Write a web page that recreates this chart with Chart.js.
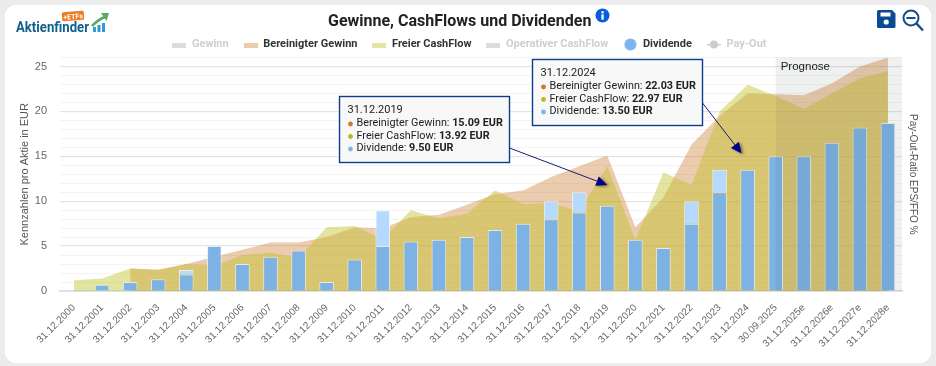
<!DOCTYPE html>
<html lang="de">
<head>
<meta charset="utf-8">
<title>Gewinne, CashFlows und Dividenden</title>
<script src="https://cdn.jsdelivr.net/npm/chart.js@4"></script>
<style>
html,body{margin:0;padding:0;background:#ececec;width:936px;height:366px;overflow:hidden}
#card{position:absolute;left:5px;top:5px;width:926px;height:358px;background:#fff;border-radius:11px}
#wrap{position:absolute;left:0;top:0;width:936px;height:366px}
#head{position:absolute;left:328px;top:11px;font:bold 16px Roboto,sans-serif;color:#222;white-space:nowrap;line-height:20px}
.ic{position:absolute}
</style>
</head>
<body>
<div id="card"></div>
<div id="wrap"><canvas id="myChart" width="936" height="366"></canvas></div>
<div id="head">Gewinne, CashFlows und Dividenden</div>

<svg class="ic" style="left:595px;top:8px" width="15" height="15" viewBox="0 0 15 15">
  <circle cx="7.5" cy="7.5" r="7" fill="#0b5ed7"/>
  <rect x="6.4" y="6.4" width="2.3" height="5.2" fill="#fff"/>
  <rect x="6.4" y="3.2" width="2.3" height="2.2" fill="#fff"/>
</svg>

<!-- logo -->
<svg class="ic" style="left:14px;top:9px" width="100" height="28" viewBox="0 0 100 28">
  <g transform="rotate(-4 59 7)">
    <rect x="48" y="2.5" width="22" height="9" rx="1.5" fill="#ee7a1f"/>
    <text x="59" y="10" text-anchor="middle" font-family="Roboto" font-weight="bold" font-size="7" fill="#fff">+ETFs</text>
  </g>
  <text x="2" y="23" font-family="Roboto" font-weight="bold" font-size="15" textLength="73" lengthAdjust="spacingAndGlyphs" fill="#10608f">Aktienfinder</text>
  <rect x="79" y="18" width="3" height="5" fill="#2f9bd4"/>
  <rect x="83.5" y="16" width="3" height="7" fill="#2f9bd4"/>
  <rect x="88" y="14" width="3" height="9" fill="#2f9bd4"/>
  <path d="M78 17 Q85 10 91 8" stroke="#58a868" stroke-width="2.5" fill="none"/>
  <path d="M87 4 L95 4 L92.5 12 Z" fill="#58a868"/>
</svg>

<!-- save + zoom icons -->
<svg class="ic" style="left:877px;top:10px" width="19" height="18" viewBox="0 0 19 18">
  <path d="M1.5 0H15L18.5 3.5V16.5A1.5 1.5 0 0 1 17 18H1.5A1.5 1.5 0 0 1 0 16.5V1.5A1.5 1.5 0 0 1 1.5 0Z" fill="#0a4a94"/>
  <rect x="3.5" y="2.5" width="10" height="4" fill="#fff"/>
  <circle cx="9.2" cy="12" r="2.6" fill="#fff"/>
</svg>
<svg class="ic" style="left:902px;top:9px" width="22" height="23" viewBox="0 0 22 23">
  <circle cx="9" cy="9" r="7.5" fill="none" stroke="#0f4f8c" stroke-width="2"/>
  <rect x="4.5" y="8" width="9" height="2" fill="#0f4f8c"/>
  <path d="M14.5 14.5L21 21.5" stroke="#0f4f8c" stroke-width="2.4"/>
</svg>

<script>
const labels=["31.12.2000","31.12.2001","31.12.2002","31.12.2003","31.12.2004","31.12.2005","31.12.2006","31.12.2007","31.12.2008","31.12.2009","31.12.2010","31.12.2011","31.12.2012","31.12.2013","31.12.2014","31.12.2015","31.12.2016","31.12.2017","31.12.2018","31.12.2019","31.12.2020","31.12.2021","31.12.2022","31.12.2023","31.12.2024","30.09.2025","31.12.2025e","31.12.2026e","31.12.2027e","31.12.2028e"];
const adjEps=[null,null,2.5,2.4,3.0,3.8,4.6,5.4,5.4,6.0,7.1,7.0,8.2,8.5,9.6,10.8,11.2,12.7,13.9,15.09,7.1,10.4,16.3,19.5,22.03,21.9,21.8,23.1,25.0,26.0];
const fcf=[1.2,1.4,2.5,2.3,3.0,2.8,4.0,4.3,3.7,7.1,7.25,5.8,9.0,8.1,8.6,11.2,9.7,9.8,8.9,13.92,5.7,13.2,11.8,20.0,22.97,21.7,20.3,22.0,23.7,24.5];
const dividend=[0,0.7,1.0,1.3,1.85,5.0,3.0,3.8,4.5,1.0,3.5,5.0,5.5,5.7,6.0,6.8,7.5,8.0,8.75,9.5,5.7,4.8,7.5,11.0,13.5,15.0,15.0,16.5,18.2,18.7];
const specialDiv=[0,0,0,0,0.5,0,0,0,0,0,0,4.0,0,0,0,0,0,2.0,2.25,0,0,0,2.5,2.5,0,0,0,0,0,0];

const yMax=26;
const prognoseFrom=25;

// the two pinned tooltips: [category index, arrow tip value on the y axis]
const pinned=[[19,11.8],[24,15.3]];

const ORANGE='rgb(204,122,41)';
const OLIVE='rgb(186,186,24)';
const BLUE='rgb(124,181,236)';

function swatch(type,color){
    const c=document.createElement('canvas');
    c.width=14;c.height=13;
    const g=c.getContext('2d');
    g.fillStyle=color;
    if(type=='area'){g.fillRect(0,5,14,5);}
    if(type=='dot'){g.beginPath();g.arc(7,6.5,6,0,Math.PI*2);g.fill();}
    if(type=='linedot'){
        g.fillRect(0,6,14,1.4);
        g.beginPath();g.arc(7,6.5,4,0,Math.PI*2);g.fill();
    }
    return c;
}

const GREY='#cfcfcf';
const legendItems=[
    {text:'Gewinn',icon:swatch('area','#dcdcdc'),color:GREY},
    {text:'Bereinigter Gewinn',icon:swatch('area','rgb(235,205,170)'),color:'#333'},
    {text:'Freier CashFlow',icon:swatch('area','rgb(228,228,165)'),color:'#333'},
    {text:'Operativer CashFlow',icon:swatch('area','#dcdcdc'),color:GREY},
    {text:'Dividende',icon:swatch('dot',BLUE),color:'#333'},
    {text:'Pay-Out',icon:swatch('linedot','#cccccc'),color:GREY},
];

function drawArrow(ctx,x1,y1,x2,y2){
    const a=Math.atan2(y2-y1,x2-x1);
    const hx=x2-11*Math.cos(a), hy=y2-11*Math.sin(a);
    ctx.strokeStyle='#1a1a7a';
    ctx.lineWidth=1;
    ctx.beginPath();ctx.moveTo(x1,y1);ctx.lineTo(hx,hy);ctx.stroke();
    ctx.save();
    ctx.shadowColor='rgba(0,0,0,.45)';
    ctx.shadowBlur=3;
    ctx.shadowOffsetX=2;ctx.shadowOffsetY=1;
    ctx.fillStyle='#00008b';
    ctx.beginPath();
    ctx.moveTo(x2,y2);
    ctx.lineTo(hx+5*Math.sin(a),hy-5*Math.cos(a));
    ctx.lineTo(hx-5*Math.sin(a),hy+5*Math.cos(a));
    ctx.closePath();ctx.fill();
    ctx.restore();
}

function drawBox(ctx,box,idx){
    ctx.fillStyle='#f8f8f8';
    ctx.strokeStyle='#0b3d8c';
    ctx.lineWidth=1.4;
    ctx.fillRect(box.x,box.y,box.w,box.h);
    ctx.strokeRect(box.x,box.y,box.w,box.h);
    const rows=[
        ['Bereinigter Gewinn: ',adjEps[idx],ORANGE],
        ['Freier CashFlow: ',fcf[idx],OLIVE],
        ['Dividende: ',dividend[idx],BLUE],
    ];
    ctx.textBaseline='middle';
    ctx.textAlign='left';
    ctx.font='11px Roboto';
    ctx.fillStyle='#222';
    ctx.fillText(labels[idx],box.x+8,box.y+14);
    rows.forEach((r,i)=>{
        const y=box.y+27+i*12.5;
        ctx.fillStyle=r[2];
        ctx.beginPath();ctx.arc(box.x+11,y+.5,2.4,0,Math.PI*2);ctx.fill();
        ctx.fillStyle='#222';
        ctx.font='10.8px Roboto';
        ctx.fillText(r[0],box.x+17,y);
        const w=ctx.measureText(r[0]).width;
        ctx.font='bold 10.8px Roboto';
        ctx.fillText(r[1].toFixed(2)+' EUR',box.x+17+w,y);
    });
}

const boxes=[
    {x:339.5,y:96.5,w:170,h:66,fromY:148,tipOff:0},
    {x:532.5,y:59.5,w:170,h:66,fromY:103,tipOff:-6},
];

const overlays={
    id:'overlays',
    beforeInit(chart){
        // the legend would otherwise take too much room above the plot,
        // and it sits a little right of the chart centre in the original
        const legend=chart.legend;
        const fit=legend.fit, draw=legend.draw;
        legend.fit=function(){fit.call(this);this.height=33.5;};
        legend.draw=function(){
            chart.ctx.save();
            chart.ctx.translate(1,0);
            draw.call(this);
            chart.ctx.restore();
        };
    },
    afterDatasetsDraw(chart){
        const {ctx,chartArea:a,scales}=chart;
        const left=scales.x.getPixelForValue(prognoseFrom);
        ctx.save();
        ctx.fillStyle='rgba(70,85,85,.085)';
        ctx.fillRect(left,a.top,a.right-left,a.bottom-a.top);
        ctx.fillStyle='#222';
        ctx.font='11.5px "Liberation Sans"';
        ctx.textBaseline='middle';
        ctx.textAlign='left';
        ctx.fillText('Prognose',left+5,scales.y.getPixelForValue(25));
        ctx.restore();
    },
    afterDraw(chart){
        const {ctx,scales}=chart;
        ctx.save();
        pinned.forEach((p,i)=>{
            const b=boxes[i];
            drawArrow(ctx,b.x+b.w,b.fromY,scales.x.getPixelForValue(p[0])+b.tipOff,scales.y.getPixelForValue(p[1]));
            drawBox(ctx,b,p[0]);
        });
        ctx.restore();
    }
};

const TICK='#666';
const ctx=document.getElementById('myChart');
const myChart=new Chart(ctx,{
    type:'bar',
    data:{
        labels:labels,
        datasets:[
            {type:'bar',label:'Dividende',data:dividend,stack:'d',order:1,backgroundColor:'rgb(124,178,228)',borderColor:'rgba(228,238,246,.9)',borderWidth:1,yAxisID:'y'},
            {type:'bar',label:'Sonderdividende',data:specialDiv,stack:'d',order:1,backgroundColor:'rgb(181,218,255)',borderColor:'rgba(240,246,250,.9)',borderWidth:1,yAxisID:'y'},
            {type:'line',label:'Freier CashFlow',data:fcf,stack:'f',order:2,fill:'origin',backgroundColor:'rgba(190,190,30,.42)',borderWidth:0,pointRadius:0,tension:0,yAxisID:'y'},
            {type:'line',label:'Bereinigter Gewinn',data:adjEps,stack:'e',order:3,fill:'origin',backgroundColor:'rgba(204,122,41,.38)',borderWidth:0,pointRadius:0,tension:0,yAxisID:'y'},
        ]
    },
    plugins:[overlays],
    options:{
        responsive:false,
        animation:false,
        layout:{padding:{top:24,left:18,right:17,bottom:0}},
        datasets:{bar:{categoryPercentage:1,barPercentage:.52}},
        plugins:{
            title:{display:false},
            tooltip:{enabled:false},
            legend:{
                position:'top',
                labels:{
                    usePointStyle:true,
                    pointStyleWidth:14,
                    padding:15,
                    font:{family:'Roboto',size:11,weight:'bold'},
                    generateLabels(){
                        return legendItems.map(l=>({text:l.text,pointStyle:l.icon,fontColor:l.color,hidden:false,lineWidth:0}));
                    }
                }
            }
        },
        scales:{
            x:{
                stacked:true,
                grid:{display:false,drawTicks:false},
                border:{color:'#d8e2ee',width:2},
                ticks:{
                    color:TICK,
                    font:{family:'"Liberation Sans"',size:10},
                    maxRotation:45,minRotation:45,autoSkip:false,padding:11,
                },
                afterFit(scale){scale.height=75;}
            },
            y:{
                stacked:true,
                min:0,max:yMax,
                border:{display:false},
                grid:{
                    drawTicks:false,
                    color:c=>c.tick.value%5==0?'rgba(120,120,120,.2)':'rgba(120,120,120,.09)',
                    lineWidth:c=>c.tick.value%5==0?1.2:1,
                },
                ticks:{
                    stepSize:1,
                    autoSkip:false,
                    color:TICK,
                    padding:13,
                    font:{family:'"Liberation Sans"',size:11},
                    callback:v=>v%5==0?v:'',
                },
                title:{display:true,text:'Kennzahlen pro Aktie in EUR',color:'#555',font:{family:'"Liberation Sans"',size:11},padding:0},
                afterFit(scale){scale.width=42;}
            },
            y1:{
                position:'right',
                min:0,max:yMax,
                border:{display:false},
                grid:{display:false,drawTicks:false},
                ticks:{display:false},
                title:{display:true,text:'Pay-Out-Ratio EPS/FFO %',color:'#555',font:{family:'"Liberation Sans"',size:10},padding:0},
                afterFit(scale){scale.width=17;}
            }
        }
    }
});
</script>
</body>
</html>
